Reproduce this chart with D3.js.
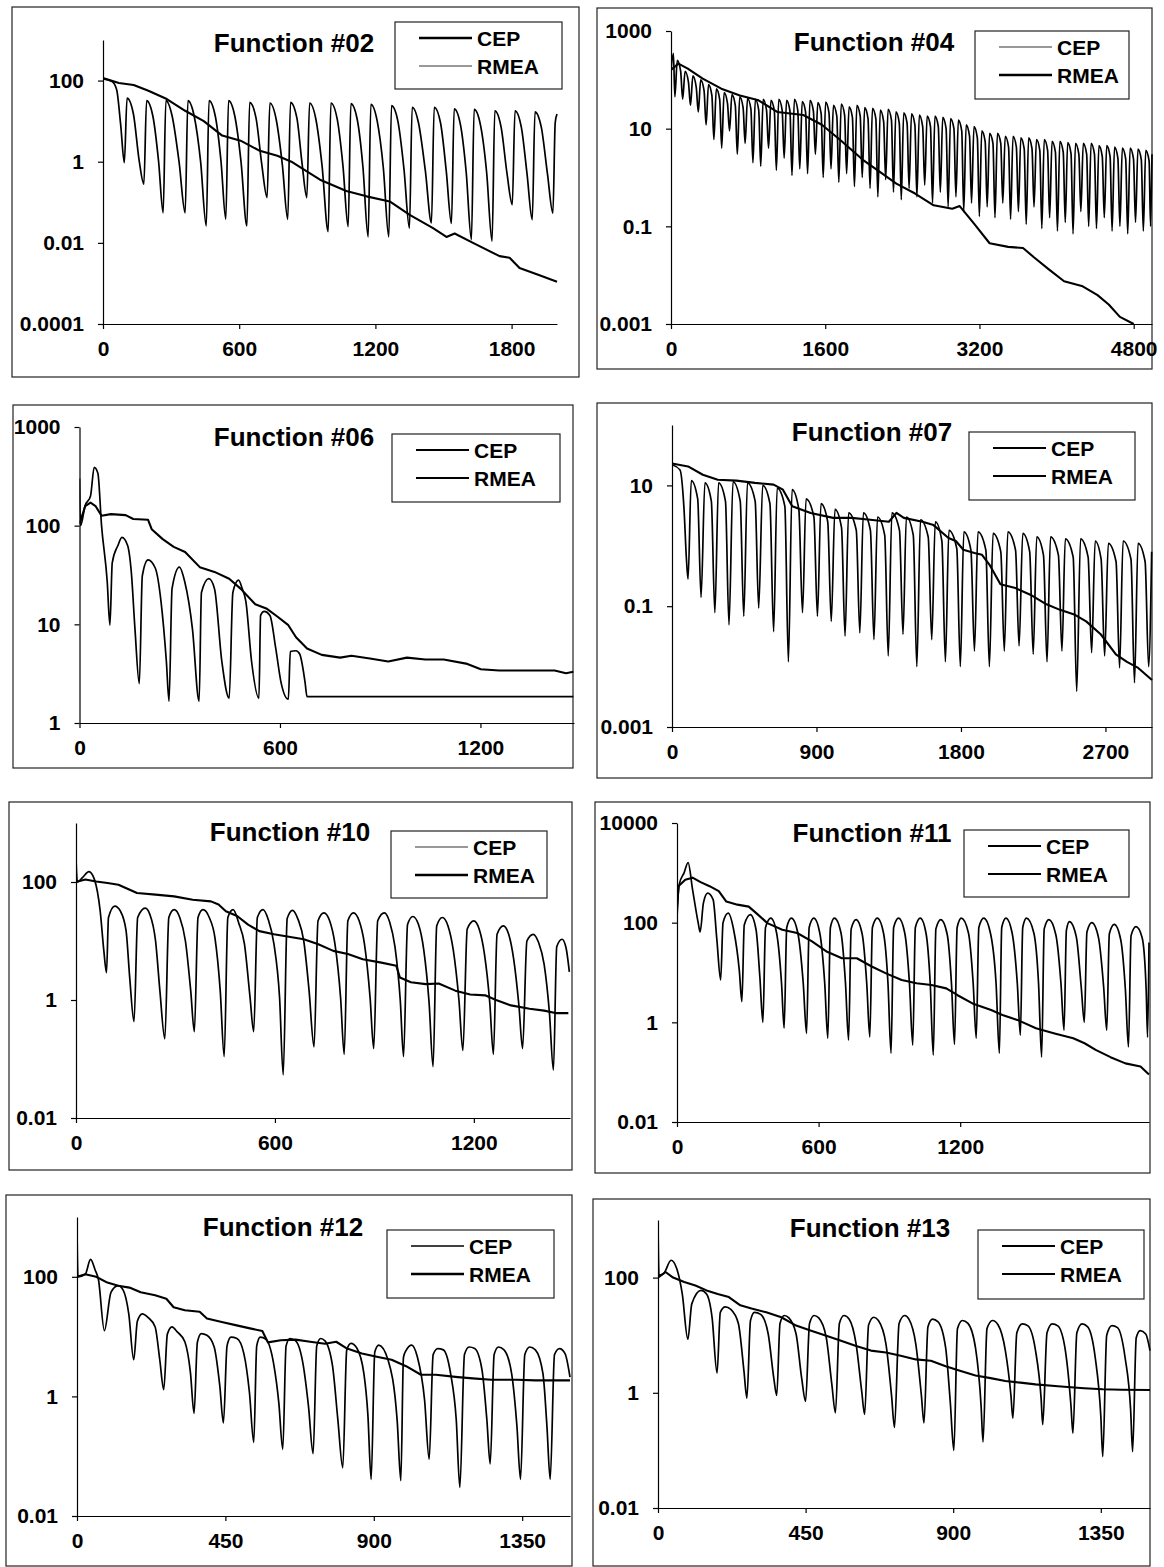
<!DOCTYPE html>
<html lang="en">
<head>
<meta charset="UTF-8">
<title>CEP vs RMEA</title>
<script src="https://d3js.org/d3.v7.min.js"></script>
<style>
  body { margin: 0; background: #fff; }
  svg text { font-family: "Liberation Sans", Arial, sans-serif; font-weight: bold; fill: #000; }
  .frame { fill: none; stroke: #222; stroke-width: 1.2; }
  .legend-box { fill: #fff; stroke: #222; stroke-width: 1.2; }
  .series { fill: none; stroke: #000; stroke-linejoin: round; }
  .axis path, .axis line { stroke: #000; stroke-width: 1.2; }
</style>
</head>
<body>
<svg id="chart" width="1164" height="1567"></svg>
<script>
// ---- data: [iteration, value] pairs ----

// Function #02
const f02XDomain = [0, 2000];
const f02YDomain = [0.0001, 1000];
const f02XTicks = [0, 600, 1200, 1800];
const f02YTicks = [0.0001, 0.01, 1, 100];
const f02Cep = [[0,115],[70,87],[135,78],[200,56],[281,35],[362,18],[444,10],[525,4.4],[606,3.3],[687,1.9],[768,1.4],[830,1.0],[868,0.74],[956,0.36],[1072,0.19],[1161,0.14],[1263,0.105],[1351,0.049],[1454,0.023],[1513,0.014],[1549,0.017],[1630,0.01],[1747,0.0047],[1791,0.0043],[1835,0.0024],[1923,0.0016],[2000,0.0011]];
const f02Rmea = [[0,110],[40,95],[60,60],[78,8],[94,0.95],
  [106,37],[134,15],[159,1.1],[180,0.28],
  [192,32],[220,13],[245,1.0],[265,0.055],
  [277,32],[305,13],[335,1.0],[362,0.055],
  [374,32],[402,13],[430,1.0],[455,0.026],
  [467,32],[495,13],[520,1.0],[541,0.038],
  [553,32],[581,13],[608,1.0],[634,0.026],
  [646,29],[674,12],[699,0.9],[723,0.13],
  [735,28],[763,11],[790,0.85],[814,0.038],
  [826,29],[854,12],[877,0.9],[898,0.13],
  [910,28],[938,11],[965,0.8],[992,0.019],
  [1004,28],[1032,11],[1057,0.8],[1080,0.025],
  [1092,27],[1120,11],[1145,0.75],[1168,0.014],
  [1180,26],[1208,10],[1235,0.7],[1259,0.014],
  [1271,24],[1299,10],[1326,0.65],[1350,0.023],
  [1362,22],[1390,9],[1420,0.6],[1447,0.031],
  [1459,22],[1487,9],[1512,0.6],[1535,0.03],
  [1547,20],[1575,8],[1600,0.55],[1623,0.012],
  [1635,19.5],[1663,8],[1690,0.55],[1714,0.011],
  [1726,18],[1754,7],[1780,0.5],[1803,0.087],
  [1815,18],[1843,7],[1868,0.5],[1891,0.037],
  [1903,17],[1931,7],[1958,0.5],[1982,0.054],
  [1992,9],[2000,15]];

// Function #04
const f04XDomain = [0, 4990];
const f04YDomain = [0.001, 1000];
const f04XTicks = [0, 1600, 3200, 4800];
const f04YTicks = [0.001, 0.1, 10, 1000];
const f04Cep = [[0,160],[77,215],[174,170],[329,106],[522,66],[715,48],[908,38],[1102,22],[1372,19],[1565,12],[1759,5.8],[1990,2.3],[2145,1.4],[2338,0.75],[2532,0.47],[2725,0.27],[2918,0.23],[2995,0.26],[3150,0.11],[3305,0.045],[3498,0.038],[3652,0.036],[3768,0.023],[3923,0.013],[4078,0.0075],[4271,0.0059],[4425,0.0039],[4541,0.0025],[4657,0.0014],[4800,0.001]];
const f04Rmea = [[0,150],[25,350],[40,45],[65,250],[100,150],[121,40],[146,150],[181,90],[202,30],[227,120],[262,70],[283,22],[308,100],[343,60],[364,12],[389,80],[424,48],[445,6],[470,65],[505,40],[526,4],[551,55],[586,33],[607,9],[632,50],[667,30],[688,3],[713,45],[748,27],[769,5],[794,42],[829,25],[850,2],[875,40],[910,24],[931,1.7],[956,40],[991,24],[1012,4],[1037,38],[1072,23],[1093,1.4],[1118,40],[1153,24],[1174,2.5],[1199,38],[1234,23],[1255,1.1],[1280,40],[1315,24],[1336,1.5],[1361,36],[1396,22],[1417,1.2],[1442,38],[1477,23],[1498,3],[1523,34],[1558,20],[1579,1.0],[1604,35],[1639,21],[1660,1.5],[1685,30],[1720,18],[1741,0.8],[1766,32],[1801,19],[1822,1.2],[1847,28],[1882,17],[1903,0.65],[1928,30],[1963,18],[1984,1.0],[2009,27],[2044,16],[2065,0.6],[2090,26],[2125,16],[2146,0.4],[2171,24],[2206,14],[2227,0.9],[2252,25],[2287,15],[2308,0.5],[2333,22],[2368,13],[2389,0.35],[2414,21],[2449,13],[2470,0.6],[2495,20],[2530,12],[2551,0.4],[2576,19],[2611,11],[2632,0.7],[2657,18],[2692,11],[2713,0.3],[2738,18],[2773,11],[2794,0.5],[2819,17],[2854,10],[2875,0.25],[2900,16],[2935,10],[2956,0.4],[2981,15],[3016,9],[3037,0.2],[3062,12],[3097,7],[3118,0.3],[3143,11],[3178,6.5],[3199,0.16],[3224,9],[3259,5.5],[3280,0.25],[3305,8],[3340,5],[3361,0.15],[3386,8],[3421,5],[3442,0.3],[3467,7],[3502,4.2],[3523,0.14],[3548,7],[3583,4.2],[3604,0.2],[3629,6.5],[3664,3.9],[3685,0.11],[3710,6.5],[3745,3.9],[3766,0.25],[3791,6],[3826,3.6],[3847,0.09],[3872,6],[3907,3.6],[3928,0.15],[3953,5.5],[3988,3.3],[4009,0.08],[4034,5.5],[4069,3.3],[4090,0.12],[4115,5.2],[4150,3.1],[4171,0.07],[4196,5],[4231,3],[4252,0.2],[4277,5],[4312,3],[4333,0.1],[4358,5],[4393,3],[4414,0.09],[4439,4.5],[4474,2.7],[4495,0.15],[4520,4.5],[4555,2.7],[4576,0.08],[4601,4.2],[4636,2.5],[4657,0.1],[4682,4],[4717,2.4],[4738,0.07],[4763,4],[4798,2.4],[4819,0.12],[4844,3.8],[4879,2.3],[4900,0.08],[4925,3.6],[4960,2.2],[4975,0.1],[4990,3]];

// Function #06
const f06XDomain = [0, 1480];
const f06YDomain = [1, 1000];
const f06XTicks = [0, 600, 1200];
const f06YTicks = [1, 10, 100, 1000];
const f06Cep = [[0,104],[17,158],[33,171],[48,158],[66,126],[94,131],[138,128],[161,117],[205,115],[216,92],[249,73],[282,61],[316,54],[360,38],[404,34],[448,29],[482,23],[526,16],[559,14.5],[592,12],[625,9.8],[648,7.4],[681,5.7],[725,4.9],[780,4.6],[814,4.8],[869,4.5],[924,4.2],[980,4.6],[1035,4.4],[1090,4.4],[1157,4.0],[1201,3.5],[1256,3.4],[1422,3.4],[1456,3.2],[1478,3.3]];
const f06Rmea = [[0,300],[3,100],[17,160],[33,200],[44,390],[55,340],[66,100],[83,27],[91,9.8],
  [98,42],[115,63],[127,76],[144,63],[155,34],[166,9],[179,2.5],
  [188,31],[205,45],[227,37],[244,17],[260,4.2],[268,1.66],
  [277,23],[299,38],[315,27],[338,9],[358,1.66],
  [365,21],[387,29],[404,23],[426,4.2],[448,1.78],
  [459,21],[476,28],[487,23],[498,17],[515,4.2],[537,1.78],
  [542,12.3],[553,13.5],[570,12.3],[587,5.8],[603,2.6],[625,1.74],
  [631,5.3],[648,5.4],[659,5.0],[675,2.6],[681,1.85],[1478,1.85]];

// Function #07
const f07XDomain = [0, 2990];
const f07YDomain = [0.001, 100];
const f07XTicks = [0, 900, 1800, 2700];
const f07YTicks = [0.001, 0.1, 10];
const f07Cep = [[0,23],[100,20.6],[192,15],[285,12.4],[401,12],[517,11],[633,10.3],[691,8.5],[749,4.5],[864,3.5],[1004,2.9],[1119,2.9],[1235,2.7],[1351,2.5],[1398,3.5],[1444,2.9],[1560,2.5],[1629,2.2],[1722,1.35],[1768,1.2],[1815,0.86],[1884,0.76],[1931,0.71],[1977,0.49],[2046,0.23],[2139,0.2],[2232,0.155],[2325,0.11],[2417,0.087],[2510,0.072],[2580,0.056],[2672,0.034],[2765,0.016],[2834,0.012],[2904,0.0095],[2990,0.006]];
const f07Rmea = [[0,22],[50,18],[75,4],[90,0.6],[100,0.28],
  [120,12],[160,6],[181,0.14],[205,11],[245,5.5],[267,0.078],
  [290,11],[333,5.5],[355,0.049],[380,11.5],[425,5.5],[447,0.068],
  [470,11],[518,5.5],[540,0.093],[565,10],[610,5],[633,0.038],
  [655,9],[703,4.5],[725,0.012],[748,8.5],[790,4],[813,0.078],
  [835,6],[884,3],[906,0.068],[928,5],[970,2.5],[992,0.056],
  [1015,4],[1056,2],[1078,0.032],[1100,3.5],[1148,1.8],[1170,0.036],
  [1192,3.5],[1236,1.8],[1258,0.028],[1280,3.0],[1325,1.5],[1347,0.015],
  [1370,3.5],[1417,1.8],[1439,0.034],[1460,3.0],[1503,1.5],[1525,0.01],
  [1548,2.7],[1596,1.4],[1618,0.028],[1640,2.5],[1681,1.2],[1703,0.012],
  [1725,1.8],[1774,0.9],[1796,0.01],[1818,1.7],[1862,0.85],[1884,0.018],
  [1906,1.7],[1955,0.85],[1977,0.01],[2000,1.6],[2048,0.8],[2070,0.018],
  [2092,1.7],[2140,0.85],[2162,0.022],[2185,1.6],[2228,0.8],[2250,0.016],
  [2272,1.4],[2314,0.7],[2336,0.012],[2358,1.4],[2407,0.7],[2429,0.018],
  [2450,1.3],[2499,0.65],[2521,0.0039],[2545,1.3],[2592,0.65],[2614,0.017],
  [2636,1.2],[2673,0.6],[2695,0.015],[2718,1.1],[2766,0.55],[2788,0.0095],
  [2810,1.2],[2859,0.6],[2881,0.0054],[2903,1.1],[2947,0.55],[2969,0.01],
  [2988,0.8]];

// Function #10
const f10XDomain = [0, 1490];
const f10YDomain = [0.01, 1000];
const f10XTicks = [0, 600, 1200];
const f10YTicks = [0.01, 1, 100];
const f10Cep = [[0,100],[28,110],[61,102],[95,96],[128,90],[162,74],[184,65],[240,61],[296,57],[352,50],[407,47],[430,41.5],[452,32],[486,26.5],[519,19],[553,14.7],[597,13],[642,11.8],[687,10.7],[731,8.8],[776,6.8],[820,6.0],[865,4.9],[921,4.3],[966,3.8],[977,2.4],[1010,2.0],[1055,1.86],[1094,1.9],[1144,1.44],[1189,1.24],[1234,1.2],[1267,1.0],[1312,0.81],[1368,0.71],[1412,0.66],[1446,0.6],[1485,0.6]];
const f10Rmea = [[0,250],[4,100],[20,120],[39,150],[55,113],[73,32],[84,6.8],[92,2.9],
  [98,25],[117,39],[134,32],[151,15],[162,2.4],[175,0.43],
  [186,25],[209,36],[223,28],[240,10],[253,1.44],[268,0.22],
  [280,25],[296,34],[313,25],[330,10],[346,1.44],[357,0.29],
  [368,25],[383,34],[402,25],[419,11.4],[435,1.44],[447,0.11],
  [458,25],[474,34],[491,20],[508,8.9],[525,1.1],[536,0.29],
  [547,25],[564,34],[580,23],[597,8.9],[614,1.1],[625,0.054],
  [637,24],[653,33],[670,23],[687,10],[703,1.44],[718,0.16],
  [730,22],[748,30],[765,22],[781,8.9],[798,1.1],[809,0.12],
  [820,22],[837,30],[854,22],[870,8.9],[887,1.1],[898,0.15],
  [910,22],[930,30],[946,21],[962,8],[978,1.0],[988,0.11],
  [1000,19],[1016,26],[1033,19],[1049,7],[1065,0.9],[1077,0.074],
  [1088,18],[1105,25],[1122,18],[1138,7],[1155,1.0],[1167,0.14],
  [1180,16],[1200,22],[1216,16],[1232,6],[1248,0.9],[1259,0.12],
  [1270,13],[1289,18],[1305,13],[1320,5],[1336,0.8],[1347,0.15],
  [1360,10],[1379,13],[1395,9.5],[1412,4],[1428,0.6],[1440,0.065],
  [1450,8],[1466,10.7],[1478,7.7],[1488,3]];

// Function #11
const f11XDomain = [0, 2000];
const f11YDomain = [0.01, 10000];
const f11XTicks = [0, 600, 1200];
const f11YTicks = [0.01, 1, 100, 10000];
const f11Cep = [[0,150],[6,540],[35,730],[66,800],[100,650],[138,540],[177,430],[209,265],[256,230],[304,210],[343,145],[383,98],[446,72],[509,62],[572,42],[636,26],[699,19.3],[762,19.3],[825,13.2],[888,9.5],[952,7.1],[1015,6.1],[1078,5.6],[1141,4.8],[1189,3.5],[1252,2.4],[1331,1.77],[1379,1.4],[1442,1.12],[1521,0.76],[1600,0.6],[1679,0.48],[1727,0.38],[1774,0.28],[1837,0.2],[1900,0.15],[1964,0.13],[2000,0.09]];
const f11Rmea = [[0,180],[10,600],[30,1000],[47,1600],[66,460],[90,98],[98,65],
  [112,250],[130,390],[153,290],[169,45],[185,7.1],
  [195,100],[217,155],[240,72],[264,11],[275,2.6],
  [285,90],[311,145],[335,72],[351,8.3],[364,1.0],
  [375,80],[398,123],[422,62],[443,6],[454,0.76],
  [465,80],[485,123],[512,62],[535,6],[549,0.6],
  [560,80],[580,123],[605,62],[626,6],[639,0.48],
  [650,80],[667,123],[695,62],[714,6],[727,0.44],
  [738,75],[759,115],[785,58],[804,6],[817,0.51],
  [828,80],[849,123],[875,62],[894,6],[907,0.24],
  [918,80],[939,123],[965,62],[985,6],[999,0.35],
  [1010,80],[1031,123],[1055,62],[1073,6],[1086,0.22],
  [1097,75],[1118,115],[1145,58],[1163,6],[1176,0.36],
  [1187,80],[1205,123],[1235,62],[1255,6],[1268,0.48],
  [1279,80],[1300,123],[1328,62],[1352,6],[1366,0.24],
  [1376,80],[1394,123],[1420,62],[1442,6],[1455,0.55],
  [1465,80],[1481,123],[1512,62],[1532,6],[1545,0.2],
  [1556,75],[1576,115],[1605,58],[1627,6],[1640,0.69],
  [1650,70],[1663,105],[1692,52],[1713,5],[1726,1.0],
  [1737,65],[1758,100],[1786,50],[1808,5],[1821,0.69],
  [1832,60],[1853,92],[1880,46],[1900,4.5],[1913,0.32],
  [1924,55],[1945,83],[1971,50],[1988,4.5],[1994,0.5],[2000,40]];

// Function #12
const f12XDomain = [0, 1495];
const f12YDomain = [0.01, 1000];
const f12XTicks = [0, 450, 900, 1350];
const f12YTicks = [0.01, 1, 100];
const f12Cep = [[0,100],[25,110],[58,100],[92,80],[125,71],[159,66],[193,55],[237,49],[271,43],[293,31],[327,27.5],[372,26],[394,20],[439,17.5],[484,15.4],[528,13.6],[562,12.4],[579,8],[618,8.7],[663,8.9],[707,8.2],[752,7.6],[786,8.2],[819,6.3],[864,5.2],[909,4.6],[954,4.1],[998,3.2],[1043,2.3],[1088,2.3],[1155,2.1],[1200,2.0],[1256,1.9],[1334,1.9],[1390,1.85],[1495,1.85]];
const f12Rmea = [[0,600],[3,100],[25,110],[41,195],[55,130],[65,90],[83,12.6],
  [103,55],[125,71],[140,60],[157,24],[172,4.1],
  [183,18],[198,24],[215,21],[237,14.5],[251,4.1],[263,1.3],
  [274,11],[288,14.5],[304,12],[327,8.2],[344,2.5],[355,0.52],
  [365,8],[377,11.2],[394,10.5],[416,6.7],[433,1.5],[444,0.36],
  [455,7],[467,9.8],[485,9.3],[506,5.2],[523,1.15],[536,0.17],
  [545,7],[556,9.8],[573,9],[596,3.6],[612,0.78],[624,0.13],
  [634,7],[646,9.3],[663,8.5],[685,3.6],[702,0.68],[716,0.11],
  [727,7],[739,9.3],[752,8.5],[775,3.2],[791,0.41],[806,0.064],
  [818,6],[831,7.7],[848,6.5],[870,2.4],[882,0.5],[892,0.041],
  [903,5.5],[915,7.2],[943,4.1],[971,0.39],[982,0.039],
  [990,4.5],[998,5.9],[1015,7.2],[1032,4.6],[1054,0.87],[1068,0.089],
  [1080,5],[1094,6.3],[1111,6],[1133,2.4],[1150,0.41],[1161,0.03],
  [1175,5],[1189,6.7],[1206,6.3],[1228,2.8],[1243,0.4],[1253,0.074],
  [1265,5],[1278,6.7],[1295,6],[1318,2.4],[1334,0.32],[1345,0.041],
  [1358,5],[1373,6.7],[1390,6],[1413,2.4],[1425,0.32],[1435,0.041],
  [1448,5],[1463,6.3],[1480,5.2],[1495,2.1]];

// Function #13
const f13XDomain = [0, 1500];
const f13YDomain = [0.01, 1000];
const f13XTicks = [0, 450, 900, 1350];
const f13YTicks = [0.01, 1, 100];
const f13Cep = [[0,100],[23,125],[46,100],[80,84],[114,73],[148,60],[182,52],[216,46],[251,33],[285,29],[330,25],[376,20.5],[421,14.7],[467,12],[513,9.8],[558,8],[604,6.5],[649,5.4],[695,5],[740,4.4],[786,3.8],[832,3.6],[877,2.9],[923,2.4],[968,2.0],[1014,1.8],[1059,1.6],[1105,1.5],[1151,1.4],[1219,1.3],[1299,1.2],[1356,1.15],[1413,1.13],[1500,1.12]];
const f13Rmea = [[0,900],[3,110],[17,117],[40,200],[57,144],[74,52],[91,8.5],
  [103,35],[131,60],[148,52],[165,20],[180,2.2],
  [190,25],[205,31],[222,28],[245,16],[262,2.4],[271,0.81],
  [282,18],[294,25],[313,23],[336,10.5],[353,1.8],[362,0.9],
  [372,16],[385,22],[399,20],[421,10.5],[438,1.8],[450,0.71],
  [462,16],[476,22],[490,20],[513,9.1],[530,1.4],[541,0.45],
  [553,16],[567,22],[583,19],[604,7],[621,1.07],[630,0.42],
  [642,15],[658,20.5],[672,18],[695,7],[712,0.9],[721,0.25],
  [735,16],[752,22],[765,19],[786,7],[803,0.9],[811,0.3],
  [823,14],[837,19],[854,17],[877,6],[891,0.7],[902,0.1],
  [913,13],[928,18],[945,16],[968,6],[985,0.6],[991,0.14],
  [1003,13],[1020,18],[1037,15],[1059,5.4],[1076,0.9],[1082,0.36],
  [1094,11],[1111,15.7],[1128,14.5],[1151,5.4],[1168,0.8],[1173,0.28],
  [1186,11],[1202,15.7],[1219,14.5],[1242,5.4],[1259,0.6],[1265,0.2],
  [1277,11],[1293,15.7],[1310,14],[1333,4.1],[1350,0.4],[1356,0.078],
  [1368,10],[1384,14.7],[1401,13.5],[1424,4.1],[1441,0.5],[1447,0.095],
  [1458,9],[1470,12],[1487,10.5],[1500,5.4]];

const seriesNames = ["CEP", "RMEA"];

// ---- layout (page pixels) ----
const panels = [
  { title: "Function #02", cep: f02Cep, rmea: f02Rmea, xd: f02XDomain, yd: f02YDomain, xt: f02XTicks, yt: f02YTicks,
    box: [12, 7, 579, 377], plot: [103, 40, 557, 324], titlePos: [294, 43], legend: [395, 22, 562, 89], legendW: [2.6, 1] },
  { title: "Function #04", cep: f04Cep, rmea: f04Rmea, xd: f04XDomain, yd: f04YDomain, xt: f04XTicks, yt: f04YTicks,
    box: [597, 8, 1152, 369], plot: [671, 31, 1152, 324], titlePos: [874, 42], legend: [975, 31, 1129, 99], legendW: [1, 2.6] },
  { title: "Function #06", cep: f06Cep, rmea: f06Rmea, xd: f06XDomain, yd: f06YDomain, xt: f06XTicks, yt: f06YTicks,
    box: [13, 405, 573, 768], plot: [79.5, 427, 574, 723], titlePos: [294, 437], legend: [392, 434, 560, 502], legendW: [2, 2] },
  { title: "Function #07", cep: f07Cep, rmea: f07Rmea, xd: f07XDomain, yd: f07YDomain, xt: f07XTicks, yt: f07YTicks,
    box: [597, 403, 1152, 778], plot: [672, 425, 1152, 727], titlePos: [872, 432], legend: [969, 432, 1135, 500], legendW: [2, 2] },
  { title: "Function #10", cep: f10Cep, rmea: f10Rmea, xd: f10XDomain, yd: f10YDomain, xt: f10XTicks, yt: f10YTicks,
    box: [9, 802, 572, 1170], plot: [76, 823, 570, 1118], titlePos: [290, 832], legend: [391, 831, 547, 898], legendW: [1, 2.6] },
  { title: "Function #11", cep: f11Cep, rmea: f11Rmea, xd: f11XDomain, yd: f11YDomain, xt: f11XTicks, yt: f11YTicks,
    box: [595, 802, 1150, 1173], plot: [677, 823, 1149, 1122], titlePos: [872, 833], legend: [964, 830, 1129, 897], legendW: [2, 2] },
  { title: "Function #12", cep: f12Cep, rmea: f12Rmea, xd: f12XDomain, yd: f12YDomain, xt: f12XTicks, yt: f12YTicks,
    box: [6, 1195, 572, 1566], plot: [77, 1217, 570, 1516], titlePos: [283, 1227], legend: [387, 1230, 554, 1298], legendW: [1.5, 2.4] },
  { title: "Function #13", cep: f13Cep, rmea: f13Rmea, xd: f13XDomain, yd: f13YDomain, xt: f13XTicks, yt: f13YTicks,
    box: [593, 1199, 1150, 1566], plot: [658, 1220, 1150, 1508], titlePos: [870, 1228], legend: [978, 1230, 1144, 1299], legendW: [2, 2] }
];

const svg = d3.select("#chart");

panels.forEach((p, i) => {
  const [l, t, r, b] = p.plot;
  const x = d3.scaleLinear().domain(p.xd).range([l, r]);
  const y = d3.scaleLog().domain(p.yd).range([b, t]);

  // outer frame
  svg.append("rect").attr("class", "frame")
    .attr("x", p.box[0]).attr("y", p.box[1])
    .attr("width", p.box[2] - p.box[0]).attr("height", p.box[3] - p.box[1]);

  // axes
  svg.append("g").attr("class", "axis")
    .attr("transform", `translate(0,${b})`)
    .call(d3.axisBottom(x).tickValues(p.xt).tickSizeInner(5).tickSizeOuter(0).tickPadding(12).tickFormat(d3.format("d")))
    .selectAll("text").style("font-size", "21px").style("font-family", "Liberation Sans, Arial, sans-serif");

  svg.append("g").attr("class", "axis")
    .attr("transform", `translate(${l},0)`)
    .call(d3.axisLeft(y).tickValues(p.yt).tickSizeInner(5).tickSizeOuter(0).tickPadding(14).tickFormat(d => String(d)))
    .selectAll("text").style("font-size", "21px").style("font-family", "Liberation Sans, Arial, sans-serif");

  svg.selectAll(".axis .domain").attr("stroke", "#000");

  // clip
  const clipId = "clip" + i;
  svg.append("clipPath").attr("id", clipId)
    .append("rect").attr("x", l).attr("y", t - 1).attr("width", r - l + 1).attr("height", b - t + 1);

  const g = svg.append("g").attr("clip-path", `url(#${clipId})`);

  const lineCep = d3.line().x(d => x(d[0])).y(d => y(d[1]));
  const lineRmea = d3.line().x(d => x(d[0])).y(d => y(d[1])).curve(d3.curveMonotoneX);

  g.append("path").datum(p.rmea).attr("class", "series")
    .attr("stroke-width", 1.7).attr("d", lineRmea);
  g.append("path").datum(p.cep).attr("class", "series")
    .attr("stroke-width", 2.1).attr("d", lineCep);

  // legend
  const [lx0, ly0, lx1, ly1] = p.legend;
  svg.append("rect").attr("class", "legend-box")
    .attr("x", lx0).attr("y", ly0).attr("width", lx1 - lx0).attr("height", ly1 - ly0);
  seriesNames.forEach((name, k) => {
    const yy = ly0 + 16 + k * 28;
    svg.append("line")
      .attr("x1", lx0 + 24).attr("x2", lx0 + 77)
      .attr("y1", yy).attr("y2", yy)
      .attr("stroke", p.legendW[k] < 1.5 ? "#333" : "#000")
      .attr("stroke-width", p.legendW[k]);
    svg.append("text")
      .attr("x", lx0 + 82).attr("y", yy).attr("dy", "0.36em")
      .style("font-size", "21px")
      .text(name);
  });

  // title
  svg.append("text")
    .attr("x", p.titlePos[0]).attr("y", p.titlePos[1]).attr("dy", "0.36em")
    .attr("text-anchor", "middle")
    .style("font-size", "26px")
    .text(p.title);
});
</script>
</body>
</html>
